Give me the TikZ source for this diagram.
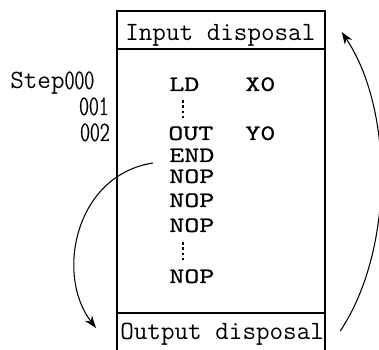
\documentclass[tikz,border=0pt]{standalone}
\usepackage{fontspec}
\usepackage{tikz}
\usetikzlibrary{arrows.meta, calc}
\newfontfamily\codefont{lmmono10-regular.otf}[FakeStretch=1.3, FakeBold=0.8]
\newfontfamily\digitfont{lmmonoltcond10-regular.otf}[FakeBold=0.6]

\begin{document}
\begin{tikzpicture}[
    x=0.02cm, y=-0.02cm,
    frame/.style={line width=1.1pt},
    title/.style={font=\fontsize{15}{18}\selectfont\ttfamily, inner sep=0pt, anchor=base west},
    instr/.style={font=\fontsize{12.5}{15}\selectfont\codefont, inner sep=0pt, anchor=base west},
    stepno/.style={font=\fontsize{16}{18}\selectfont\digitfont, inner sep=0pt, anchor=base east},
    vdots/.style={line width=1.4pt, dash pattern=on 1.5pt off 1.5pt},
    flow/.style={line width=0.6pt, -{Stealth[length=7pt, width=5pt]}},
]
    \useasboundingbox (0,0) rectangle (379,350);
    \clip (0,0) rectangle (379,350);

    \draw[frame] (117,352) -- (117,11) -- (325,11) -- (325,352);
    \draw[frame] (117,49) -- (325,49);
    \draw[frame] (117,313) -- (325,313);

    \node[title] (inp) at (125,41) {Input disposal};
    \node[title] (outp) at (120,340) {Output disposal};

    \node[title] (steplbl) at (10,89) {Step{\fontsize{16}{18}\selectfont\digitfont 000}};
    \node[stepno] (s1) at (109,115) {001};
    \node[stepno] (s2) at (110,141) {002};

    \node[instr] (ld) at (169,91) {LD};
    \node[instr] (xin) at (245,91) {X0};
    \node[instr] (outi) at (168,140) {OUT};
    \node[instr] (yout) at (245,140) {Y0};
    \node[instr] (endi) at (169,162) {END};
    \node[instr] (nop1) at (169,183) {NOP};
    \node[instr] (nop2) at (169,207) {NOP};
    \node[instr] (nop3) at (169,232) {NOP};
    \node[instr] (nop4) at (169,283) {NOP};

    \draw[vdots] ($(ld.base west)+(14,9)$) -- ++(0,21);
    \draw[vdots] ($(nop3.base west)+(14,10)$) -- ++(0,21);

    \coordinate (a1) at ($(endi.base west)+(-16,1)$);
    \coordinate (a2) at ($(outp.base west)+(-24,-12)$);
    \coordinate (b1) at ($(outp.base east)+(16,-9)$);
    \coordinate (b2) at ($(inp.base east)+(26,-9)$);
    \draw[flow] (a1) .. controls (75,175) and (55,275) .. (a2);
    \draw[flow] (b1) .. controls (394,250) and (394,110) .. (b2);
\end{tikzpicture}
\end{document}
